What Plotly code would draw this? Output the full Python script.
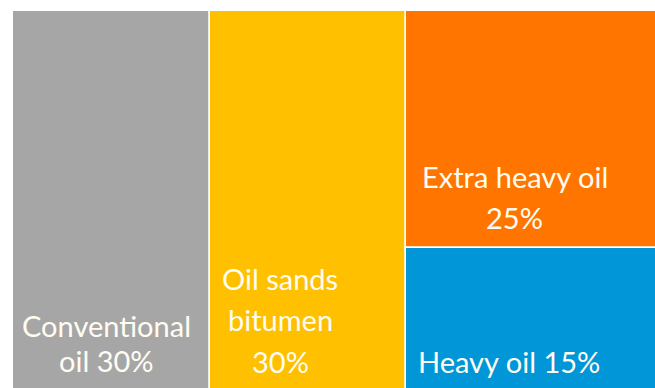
import plotly.graph_objects as go

# Shares of world oil resources by type (percent)
labels = ["Conventional oil", "Oil sands bitumen", "Extra heavy oil", "Heavy oil"]
shares = [30, 30, 25, 15]
columns = ["Conventional", "Oil sands", "Heavy", "Heavy"]
colors = ["#A6A6A6", "#FFC000", "#FF7500", "#0096D8"]

# Text drawn inside each block, one entry per line
label_lines = [
    ["Conventional", "oil 30%"],
    ["Oil sands", "bitumen", "30%"],
    ["Extra heavy oil", "25%"],
    ["Heavy oil 15%"],
]

# Column widths are the summed shares; heights within a column are normalised to 100
col_order = []
for c in columns:
    if c not in col_order:
        col_order.append(c)
col_total = {c: sum(s for s, cc in zip(shares, columns) if cc == c) for c in col_order}
col_left = {}
acc = 0
for c in col_order:
    col_left[c] = acc
    acc += col_total[c]

# Stack bottom-up: later entries of a column sit lower
rects = []
col_fill = {c: 0.0 for c in col_order}
for i in reversed(range(len(labels))):
    c = columns[i]
    h = shares[i] / col_total[c] * 100
    rects.append((i, col_left[c], col_total[c], col_fill[c], h))
    col_fill[c] += h
rects.sort()

fig = go.Figure()
for i, x0, w, b, h in rects:
    fig.add_trace(go.Bar(
        x=[x0 + w / 2], y=[h], base=[b], width=[w],
        marker=dict(color=colors[i], line=dict(color="#FFFFFF", width=1.5)),
        name=labels[i], hoverinfo="name", showlegend=False,
    ))

# Text placement (data coordinates) for each line of each block
text_pos = [
    dict(x=14.2, ys=[16.9, 7.9], anchor="center"),
    dict(x=40.8, ys=[29.5, 18.5, 7.6], anchor="center"),
    dict(x=76.6, ys=[56.4, 45.6], anchor="center"),
    dict(x=61.5, ys=[7.4], anchor="left"),
]
for lines, pos in zip(label_lines, text_pos):
    for line, y in zip(lines, pos["ys"]):
        fig.add_annotation(
            x=pos["x"], y=y, xref="x", yref="y", text=line, showarrow=False,
            xanchor=pos["anchor"], yanchor="middle",
            font=dict(family="Lato", size=29, color="#FFFDF2"),
        )

fig.update_layout(
    width=655, height=388,
    margin=dict(l=0, r=0, t=0, b=0),
    paper_bgcolor="white", plot_bgcolor="white",
    barmode="overlay", bargap=0,
    xaxis=dict(range=[-1.98, 98.0], visible=False, fixedrange=True),
    yaxis=dict(range=[0.53, 102.9], visible=False, fixedrange=True),
)

fig.write_html("out.html")
